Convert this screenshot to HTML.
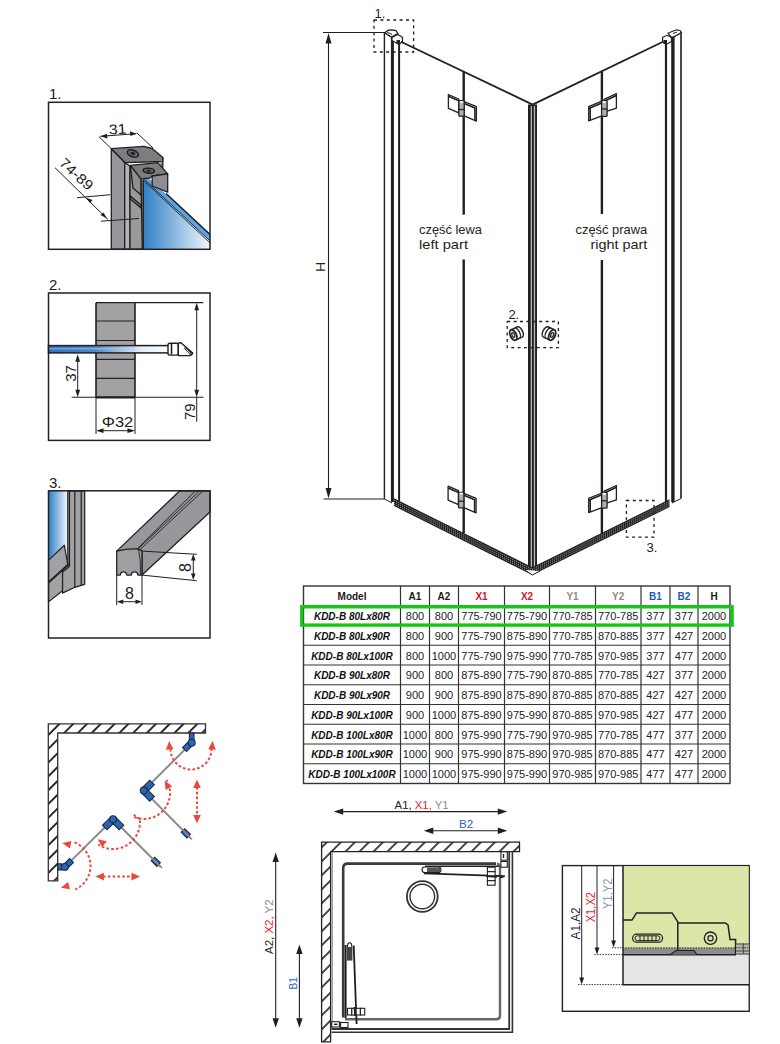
<!DOCTYPE html>
<html><head><meta charset="utf-8"><style>
html,body{margin:0;padding:0;background:#fff;width:780px;height:1044px;overflow:hidden}
svg{position:absolute;left:0;top:0}
</style></head><body>
<svg width="780" height="1044" viewBox="0 0 780 1044">
<defs>
<linearGradient id="gl" x1="0" y1="0" x2="1" y2="0"><stop offset="0" stop-color="#3a86c8"/><stop offset="1" stop-color="#ffffff"/></linearGradient>
<pattern id="hatch" patternUnits="userSpaceOnUse" width="8" height="8" patternTransform="rotate(45)"><rect width="8" height="8" fill="#fff"/><line x1="0" y1="0" x2="0" y2="8" stroke="#222" stroke-width="2.2"/></pattern>
<pattern id="hatch14" patternUnits="userSpaceOnUse" width="9.9" height="9.9" patternTransform="rotate(45)"><rect x="-1" y="-1" width="12" height="12" fill="#fff"/><line x1="4.95" y1="-1" x2="4.95" y2="11" stroke="#222" stroke-width="1.7"/></pattern>
<pattern id="hatch9" patternUnits="userSpaceOnUse" width="9.75" height="9.75" patternTransform="rotate(45) translate(3 0)"><rect x="-1" y="-1" width="12" height="12" fill="#fff"/><line x1="4.9" y1="-1" x2="4.9" y2="11" stroke="#222" stroke-width="1.9"/></pattern>
</defs>
<g stroke="#333" stroke-width="1.2" fill="none">
<rect x="303.5" y="586.0" width="426.5" height="197.5" stroke-width="1.4"/>
<line x1="400.5" y1="586.0" x2="400.5" y2="783.5"/>
<line x1="429.5" y1="586.0" x2="429.5" y2="783.5"/>
<line x1="458.5" y1="586.0" x2="458.5" y2="783.5"/>
<line x1="504.5" y1="586.0" x2="504.5" y2="783.5"/>
<line x1="549.5" y1="586.0" x2="549.5" y2="783.5"/>
<line x1="595.5" y1="586.0" x2="595.5" y2="783.5"/>
<line x1="641" y1="586.0" x2="641" y2="783.5"/>
<line x1="670" y1="586.0" x2="670" y2="783.5"/>
<line x1="698" y1="586.0" x2="698" y2="783.5"/>
<line x1="303.5" y1="605.75" x2="730" y2="605.75"/>
<line x1="303.5" y1="625.50" x2="730" y2="625.50"/>
<line x1="303.5" y1="645.25" x2="730" y2="645.25"/>
<line x1="303.5" y1="665.00" x2="730" y2="665.00"/>
<line x1="303.5" y1="684.75" x2="730" y2="684.75"/>
<line x1="303.5" y1="704.50" x2="730" y2="704.50"/>
<line x1="303.5" y1="724.25" x2="730" y2="724.25"/>
<line x1="303.5" y1="744.00" x2="730" y2="744.00"/>
<line x1="303.5" y1="763.75" x2="730" y2="763.75"/>
</g>
<g font-family='"Liberation Sans", sans-serif' text-anchor="middle">
<text x="352.0" y="600.0" font-size="10" font-weight="bold" fill="#1a1a1a">Model</text>
<text x="415.0" y="600.0" font-size="10" font-weight="bold" fill="#1a1a1a">A1</text>
<text x="444.0" y="600.0" font-size="10" font-weight="bold" fill="#1a1a1a">A2</text>
<text x="481.5" y="600.0" font-size="10" font-weight="bold" fill="#d7141e">X1</text>
<text x="527.0" y="600.0" font-size="10" font-weight="bold" fill="#d7141e">X2</text>
<text x="572.5" y="600.0" font-size="10" font-weight="bold" fill="#8a8a8a">Y1</text>
<text x="618.2" y="600.0" font-size="10" font-weight="bold" fill="#8a8a8a">Y2</text>
<text x="655.5" y="600.0" font-size="10" font-weight="bold" fill="#1d5cb4">B1</text>
<text x="684.0" y="600.0" font-size="10" font-weight="bold" fill="#1d5cb4">B2</text>
<text x="714.0" y="600.0" font-size="10" font-weight="bold" fill="#1a1a1a">H</text>
<text x="352.0" y="620.0" font-size="10" font-weight="bold" font-style="italic" fill="#111">KDD-B 80Lx80R</text>
<text x="415.0" y="620.0" font-size="11" fill="#222">800</text>
<text x="444.0" y="620.0" font-size="11" fill="#222">800</text>
<text x="481.5" y="620.0" font-size="11" fill="#222">775-790</text>
<text x="527.0" y="620.0" font-size="11" fill="#222">775-790</text>
<text x="572.5" y="620.0" font-size="11" fill="#222">770-785</text>
<text x="618.2" y="620.0" font-size="11" fill="#222">770-785</text>
<text x="655.5" y="620.0" font-size="11" fill="#222">377</text>
<text x="684.0" y="620.0" font-size="11" fill="#222">377</text>
<text x="714.0" y="620.0" font-size="11" fill="#222">2000</text>
<text x="352.0" y="639.7" font-size="10" font-weight="bold" font-style="italic" fill="#111">KDD-B 80Lx90R</text>
<text x="415.0" y="639.7" font-size="11" fill="#222">800</text>
<text x="444.0" y="639.7" font-size="11" fill="#222">900</text>
<text x="481.5" y="639.7" font-size="11" fill="#222">775-790</text>
<text x="527.0" y="639.7" font-size="11" fill="#222">875-890</text>
<text x="572.5" y="639.7" font-size="11" fill="#222">770-785</text>
<text x="618.2" y="639.7" font-size="11" fill="#222">870-885</text>
<text x="655.5" y="639.7" font-size="11" fill="#222">377</text>
<text x="684.0" y="639.7" font-size="11" fill="#222">427</text>
<text x="714.0" y="639.7" font-size="11" fill="#222">2000</text>
<text x="352.0" y="659.5" font-size="10" font-weight="bold" font-style="italic" fill="#111">KDD-B 80Lx100R</text>
<text x="415.0" y="659.5" font-size="11" fill="#222">800</text>
<text x="444.0" y="659.5" font-size="11" fill="#222">1000</text>
<text x="481.5" y="659.5" font-size="11" fill="#222">775-790</text>
<text x="527.0" y="659.5" font-size="11" fill="#222">975-990</text>
<text x="572.5" y="659.5" font-size="11" fill="#222">770-785</text>
<text x="618.2" y="659.5" font-size="11" fill="#222">970-985</text>
<text x="655.5" y="659.5" font-size="11" fill="#222">377</text>
<text x="684.0" y="659.5" font-size="11" fill="#222">477</text>
<text x="714.0" y="659.5" font-size="11" fill="#222">2000</text>
<text x="352.0" y="679.2" font-size="10" font-weight="bold" font-style="italic" fill="#111">KDD-B 90Lx80R</text>
<text x="415.0" y="679.2" font-size="11" fill="#222">900</text>
<text x="444.0" y="679.2" font-size="11" fill="#222">800</text>
<text x="481.5" y="679.2" font-size="11" fill="#222">875-890</text>
<text x="527.0" y="679.2" font-size="11" fill="#222">775-790</text>
<text x="572.5" y="679.2" font-size="11" fill="#222">870-885</text>
<text x="618.2" y="679.2" font-size="11" fill="#222">770-785</text>
<text x="655.5" y="679.2" font-size="11" fill="#222">427</text>
<text x="684.0" y="679.2" font-size="11" fill="#222">377</text>
<text x="714.0" y="679.2" font-size="11" fill="#222">2000</text>
<text x="352.0" y="699.0" font-size="10" font-weight="bold" font-style="italic" fill="#111">KDD-B 90Lx90R</text>
<text x="415.0" y="699.0" font-size="11" fill="#222">900</text>
<text x="444.0" y="699.0" font-size="11" fill="#222">900</text>
<text x="481.5" y="699.0" font-size="11" fill="#222">875-890</text>
<text x="527.0" y="699.0" font-size="11" fill="#222">875-890</text>
<text x="572.5" y="699.0" font-size="11" fill="#222">870-885</text>
<text x="618.2" y="699.0" font-size="11" fill="#222">870-885</text>
<text x="655.5" y="699.0" font-size="11" fill="#222">427</text>
<text x="684.0" y="699.0" font-size="11" fill="#222">427</text>
<text x="714.0" y="699.0" font-size="11" fill="#222">2000</text>
<text x="352.0" y="718.7" font-size="10" font-weight="bold" font-style="italic" fill="#111">KDD-B 90Lx100R</text>
<text x="415.0" y="718.7" font-size="11" fill="#222">900</text>
<text x="444.0" y="718.7" font-size="11" fill="#222">1000</text>
<text x="481.5" y="718.7" font-size="11" fill="#222">875-890</text>
<text x="527.0" y="718.7" font-size="11" fill="#222">975-990</text>
<text x="572.5" y="718.7" font-size="11" fill="#222">870-885</text>
<text x="618.2" y="718.7" font-size="11" fill="#222">970-985</text>
<text x="655.5" y="718.7" font-size="11" fill="#222">427</text>
<text x="684.0" y="718.7" font-size="11" fill="#222">477</text>
<text x="714.0" y="718.7" font-size="11" fill="#222">2000</text>
<text x="352.0" y="738.5" font-size="10" font-weight="bold" font-style="italic" fill="#111">KDD-B 100Lx80R</text>
<text x="415.0" y="738.5" font-size="11" fill="#222">1000</text>
<text x="444.0" y="738.5" font-size="11" fill="#222">800</text>
<text x="481.5" y="738.5" font-size="11" fill="#222">975-990</text>
<text x="527.0" y="738.5" font-size="11" fill="#222">775-790</text>
<text x="572.5" y="738.5" font-size="11" fill="#222">970-985</text>
<text x="618.2" y="738.5" font-size="11" fill="#222">770-785</text>
<text x="655.5" y="738.5" font-size="11" fill="#222">477</text>
<text x="684.0" y="738.5" font-size="11" fill="#222">377</text>
<text x="714.0" y="738.5" font-size="11" fill="#222">2000</text>
<text x="352.0" y="758.2" font-size="10" font-weight="bold" font-style="italic" fill="#111">KDD-B 100Lx90R</text>
<text x="415.0" y="758.2" font-size="11" fill="#222">1000</text>
<text x="444.0" y="758.2" font-size="11" fill="#222">900</text>
<text x="481.5" y="758.2" font-size="11" fill="#222">975-990</text>
<text x="527.0" y="758.2" font-size="11" fill="#222">875-890</text>
<text x="572.5" y="758.2" font-size="11" fill="#222">970-985</text>
<text x="618.2" y="758.2" font-size="11" fill="#222">870-885</text>
<text x="655.5" y="758.2" font-size="11" fill="#222">477</text>
<text x="684.0" y="758.2" font-size="11" fill="#222">427</text>
<text x="714.0" y="758.2" font-size="11" fill="#222">2000</text>
<text x="352.0" y="778.0" font-size="10" font-weight="bold" font-style="italic" fill="#111">KDD-B 100Lx100R</text>
<text x="415.0" y="778.0" font-size="11" fill="#222">1000</text>
<text x="444.0" y="778.0" font-size="11" fill="#222">1000</text>
<text x="481.5" y="778.0" font-size="11" fill="#222">975-990</text>
<text x="527.0" y="778.0" font-size="11" fill="#222">975-990</text>
<text x="572.5" y="778.0" font-size="11" fill="#222">970-985</text>
<text x="618.2" y="778.0" font-size="11" fill="#222">970-985</text>
<text x="655.5" y="778.0" font-size="11" fill="#222">477</text>
<text x="684.0" y="778.0" font-size="11" fill="#222">477</text>
<text x="714.0" y="778.0" font-size="11" fill="#222">2000</text>
</g>
<rect x="301.8" y="606.8" width="430.3" height="18.3" fill="none" stroke="#14c814" stroke-width="3.4"/>
<g stroke="#231f20" stroke-width="1.1" fill="none">
<line x1="323" y1="32.5" x2="385" y2="32.5"/>
<line x1="323.5" y1="499" x2="384.5" y2="499"/>
<line x1="328.5" y1="40" x2="328.5" y2="491"/>
</g>
<path d="M328.5 33 L325.5 43.5 L331.5 43.5 Z M328.5 498.5 L325.5 488 L331.5 488 Z" fill="#231f20"/>
<text transform="translate(325.3 266.8) rotate(-90)" font-family='"Liberation Sans", sans-serif' font-size="13.5" text-anchor="middle" fill="#231f20">H</text>
<g stroke="#231f20" fill="none">
<line x1="384.4" y1="33" x2="384.4" y2="499" stroke-width="1.4"/>
<line x1="392.4" y1="38" x2="392.4" y2="502" stroke-width="3"/>
<line x1="399.1" y1="43" x2="399.1" y2="501" stroke-width="2"/>
<path d="M384.6 32.8 L388.5 30.2 L392 29.8 L396 30.6 L397.8 33.5 L391.5 37 Z" stroke-width="1.2" fill="#fff"/>
<path d="M392 37.5 L397.8 34.5 L402.5 37.3 L402.5 41.5 L399 44.5 L392 40.5 Z" stroke-width="1.2" fill="#fff"/>
<path d="M384.6 33 L392 37.5 M387 32 L392 34.5" stroke-width="1"/>
<rect x="396.5" y="40" width="3.5" height="4" fill="#231f20" stroke="none"/>
<line x1="384.4" y1="499" x2="392" y2="503" stroke-width="1"/>
<line x1="401" y1="41.7" x2="532.6" y2="104.6" stroke-width="1.8"/>
<line x1="532.6" y1="104.6" x2="664" y2="41.2" stroke-width="1.8"/>
<line x1="666" y1="40" x2="666" y2="502" stroke-width="2.2"/>
<line x1="672.9" y1="36" x2="672.9" y2="502.3" stroke-width="3.4"/>
<line x1="681" y1="32.5" x2="681" y2="498.5" stroke-width="1.8" stroke="#3a3536"/>
<line x1="681" y1="498.5" x2="672" y2="503" stroke-width="1"/>
<path d="M662.6 37.3 L667 35.3 L671.5 37.5 L671.5 41.5 L666 44.5 L662.6 41.5 Z" stroke-width="1.2" fill="#fff"/>
<path d="M668 33.2 L672 31.5 L676.4 29.8 L680 30.5 L681.5 32.5 L675.5 36 L671.5 37.5 Z" stroke-width="1.2" fill="#fff"/>
<path d="M681.5 32.5 L672.6 37.8 M673 33.5 L677 32" stroke-width="1"/>
<rect x="663.5" y="40" width="3.5" height="4" fill="#231f20" stroke="none"/>
</g>
<rect x="528" y="104.5" width="9" height="465" fill="#231f20"/>
<rect x="530.7" y="106" width="1.3" height="462" fill="#b9b9b9"/>
<rect x="533.8" y="106" width="1.3" height="462" fill="#b9b9b9"/>
<g stroke="#231f20" stroke-width="2.4">
<line x1="463.7" y1="71.5" x2="463.7" y2="214.7"/><line x1="463.7" y1="259.6" x2="463.7" y2="533"/>
<line x1="601.9" y1="71.8" x2="601.9" y2="214"/><line x1="601.9" y1="260" x2="601.9" y2="535"/>
</g>
<path d="M394 498.3 L532.3 567.2 L532.3 575.0 L394 506.1 Z" fill="#231f20"/><path d="M394 500.3 L532.3 569.2 M394 502.3 L532.3 571.2 M394 504.3 L532.3 573.2" stroke="#fff" stroke-width="0.7" stroke-dasharray="0.9 1.3" fill="none" opacity="0.9"/>
<path d="M532.3 567.2 L669.5 499.3 L669.5 507.1 L532.3 575.0 Z" fill="#231f20"/><path d="M532.3 569.2 L669.5 501.3 M532.3 571.2 L669.5 503.3 M532.3 573.2 L669.5 505.3" stroke="#fff" stroke-width="0.7" stroke-dasharray="0.9 1.3" fill="none" opacity="0.9"/>
<path d="M525 570 L532.3 575 L540 571" stroke="#231f20" stroke-width="1" fill="#fff"/>
<g stroke="#231f20" stroke-width="1.3" fill="#fff" stroke-linejoin="round"><path d="M448.4 94.5 L458.8 99.0 L458.8 112.9 L448.4 108.4 Z"/><path d="M448.4 96.3 L458.8 100.8" stroke-width="1.6"/><path d="M464.2 101.7 L476.4 106.6 L476.4 121.1 L464.2 115.9 Z"/><path d="M464.2 103.5 L474.9 108.0 L474.9 120.5" stroke-width="1.6"/><rect x="458.8" y="100.6" width="5.4" height="15.6" rx="1" fill="#b0b0b0"/><line x1="458.8" y1="109.5" x2="464.2" y2="109.5"/><ellipse cx="461.5" cy="101.9" rx="1.8" ry="1" fill="#fff" stroke="none"/></g>
<g stroke="#231f20" stroke-width="1.3" fill="#fff" stroke-linejoin="round"><path d="M448.09999999999997 486.2 L458.5 490.7 L458.5 504.59999999999997 L448.09999999999997 500.09999999999997 Z"/><path d="M448.09999999999997 488.0 L458.5 492.5" stroke-width="1.6"/><path d="M463.9 493.4 L476.09999999999997 498.3 L476.09999999999997 512.8 L463.9 507.59999999999997 Z"/><path d="M463.9 495.2 L474.59999999999997 499.7 L474.59999999999997 512.2" stroke-width="1.6"/><rect x="458.5" y="492.3" width="5.4" height="15.6" rx="1" fill="#b0b0b0"/><line x1="458.5" y1="501.2" x2="463.9" y2="501.2"/><ellipse cx="461.2" cy="493.59999999999997" rx="1.8" ry="1" fill="#fff" stroke="none"/></g>
<g stroke="#231f20" stroke-width="1.3" fill="#fff" stroke-linejoin="round"><path d="M604.1999999999999 99.4 L616.4 93.7 L616.4 108.10000000000001 L604.1999999999999 112.1 Z"/><path d="M604.1999999999999 101.2 L616.4 95.5" stroke-width="1.6"/><path d="M588.6999999999999 106.60000000000001 L601.9 101.2 L601.9 115.9 L588.6999999999999 120.80000000000001 Z"/><path d="M588.6999999999999 108.4 L601.9 103.0 M590.1999999999999 107.7 L590.1999999999999 120.2" stroke-width="1.6"/><rect x="601.6" y="100.60000000000001" width="5.5" height="15.8" rx="1" fill="#b0b0b0"/><line x1="601.6" y1="109.0" x2="607.1" y2="109.0"/><ellipse cx="604.3" cy="101.9" rx="1.8" ry="1" fill="#fff" stroke="none"/></g>
<g stroke="#231f20" stroke-width="1.3" fill="#fff" stroke-linejoin="round"><path d="M604.1999999999999 491.2 L616.4 485.5 L616.4 499.9 L604.1999999999999 503.9 Z"/><path d="M604.1999999999999 493.0 L616.4 487.3" stroke-width="1.6"/><path d="M588.6999999999999 498.4 L601.9 493.0 L601.9 507.7 L588.6999999999999 512.6 Z"/><path d="M588.6999999999999 500.2 L601.9 494.8 M590.1999999999999 499.5 L590.1999999999999 512.0" stroke-width="1.6"/><rect x="601.6" y="492.4" width="5.5" height="15.8" rx="1" fill="#b0b0b0"/><line x1="601.6" y1="500.8" x2="607.1" y2="500.8"/><ellipse cx="604.3" cy="493.7" rx="1.8" ry="1" fill="#fff" stroke="none"/></g>
<g font-family='"Liberation Sans", sans-serif' font-size="13" fill="#231f20">
<text x="419" y="234" textLength="63" lengthAdjust="spacingAndGlyphs">część lewa</text>
<text x="419" y="249" textLength="49" lengthAdjust="spacingAndGlyphs">left part</text>
<text x="575.5" y="234" textLength="71.8" lengthAdjust="spacingAndGlyphs">część prawa</text>
<text x="590.4" y="249" textLength="57" lengthAdjust="spacingAndGlyphs">right part</text>
<text x="374.6" y="17.9" font-size="13">1.</text>
<text x="508.4" y="319" font-size="13">2.</text>
<text x="646.5" y="551.8" font-size="13">3.</text>
</g>
<g fill="none" stroke="#231f20" stroke-width="1.3" stroke-dasharray="3 3.4">
<rect x="374" y="20" width="39.6" height="32"/>
<rect x="507.2" y="321.5" width="51.2" height="26.2"/>
<rect x="626.4" y="500.5" width="27.6" height="36.7"/>
</g>
<g stroke="#231f20" stroke-width="1.5" fill="#fff" transform="translate(516.5 333.5) rotate(-25)"><ellipse cx="3.5" cy="0" rx="3" ry="5.6"/><rect x="-3.5" y="-5.6" width="7" height="11.2" stroke="none"/><path d="M-3.5 -5.6 L3.5 -5.6 M-3.5 5.6 L3.5 5.6"/><path d="M0.3 -5.6 A 3 5.6 0 0 1 0.3 5.6" stroke-width="1.3"/><ellipse cx="-3.5" cy="0" rx="3" ry="5.6" stroke-width="1.8"/><ellipse cx="-3.5" cy="0" rx="1.3" ry="2.6" stroke-width="1.3"/></g>
<g stroke="#231f20" stroke-width="1.5" fill="#fff" transform="translate(549 333.5) rotate(25)"><ellipse cx="-3.5" cy="0" rx="3" ry="5.6"/><rect x="-3.5" y="-5.6" width="7" height="11.2" stroke="none"/><path d="M-3.5 -5.6 L3.5 -5.6 M-3.5 5.6 L3.5 5.6"/><path d="M-0.3 -5.6 A 3 5.6 0 0 0 -0.3 5.6" stroke-width="1.3"/><ellipse cx="3.5" cy="0" rx="3" ry="5.6" stroke-width="1.8"/><ellipse cx="3.5" cy="0" rx="1.3" ry="2.6" stroke-width="1.3"/></g>
<line x1="342.2" y1="811.6" x2="498.8" y2="811.6" stroke="#231f20" stroke-width="1.1"/><path d="M333.7 811.6 L343.2 808.4 L343.2 814.8000000000001 Z M507.3 811.6 L497.8 808.4 L497.8 814.8000000000001 Z" fill="#231f20"/>
<line x1="432.3" y1="830.8" x2="498.8" y2="830.8" stroke="#231f20" stroke-width="1.1"/><path d="M423.8 830.8 L433.3 827.5999999999999 L433.3 834.0 Z M507.3 830.8 L497.8 827.5999999999999 L497.8 834.0 Z" fill="#231f20"/>
<text x="394.6" y="808.9" font-family='"Liberation Sans", sans-serif' font-size="11" textLength="54" lengthAdjust="spacingAndGlyphs"><tspan fill="#222">A1, </tspan><tspan fill="#e8262a">X1, </tspan><tspan fill="#8c8c8c">Y1</tspan></text>
<text x="459" y="827.9" font-family='"Liberation Sans", sans-serif' font-size="11" fill="#2b66c0" textLength="14.2" lengthAdjust="spacingAndGlyphs">B2</text>
<line x1="275.7" y1="861.0" x2="275.7" y2="1019.2" stroke="#231f20" stroke-width="1.1"/><path d="M275.7 852.5 L272.5 862.0 L278.9 862.0 Z M275.7 1027.7 L272.5 1018.2 L278.9 1018.2 Z" fill="#231f20"/>
<line x1="299.4" y1="952.9" x2="299.4" y2="1019.2" stroke="#231f20" stroke-width="1.1"/><path d="M299.4 944.4 L296.2 953.9 L302.59999999999997 953.9 Z M299.4 1027.7 L296.2 1018.2 L302.59999999999997 1018.2 Z" fill="#231f20"/>
<text transform="translate(273.2 954) rotate(-90)" font-family='"Liberation Sans", sans-serif' font-size="11" textLength="54.6" lengthAdjust="spacingAndGlyphs"><tspan fill="#222">A2, </tspan><tspan fill="#e8262a">X2, </tspan><tspan fill="#8c8c8c">Y2</tspan></text>
<text transform="translate(297 989.4) rotate(-90)" font-family='"Liberation Sans", sans-serif' font-size="11" fill="#2b66c0" textLength="12.4" lengthAdjust="spacingAndGlyphs">B1</text>
<path d="M321.6 842.1 L519.5 842.1 L519.5 851.7 L330.6 851.7 L330.6 1041.8 L321.6 1041.8 Z" fill="url(#hatch14)" stroke="#222" stroke-width="1.3"/>
<g fill="none" stroke="#333">
<path d="M332.2 852 L332.2 1029" stroke="#777" stroke-width="1"/>
<path d="M331.5 1029 L509.2 1029 L509.2 852" stroke-width="1.8"/>
<path d="M331.5 1032.2 L512.4 1032.2 L512.4 852" stroke-width="1.6"/>
<path d="M343.2 1017.5 L343.2 868 Q343.2 863.6 347.6 863.6 L496 863.6" stroke="#3a3a3a" stroke-width="2.6"/>
<path d="M345 1019.3 L496 1019.3 Q500 1019.3 500 1015.3 L500 867 Q500 864 497 863.6" stroke="#666" stroke-width="2.4"/>
<circle cx="422.3" cy="896.5" r="15.4" stroke-width="1.8"/>
<circle cx="422.3" cy="896.5" r="12.3" stroke-width="1.4"/>
</g>
<g stroke="#231f20" fill="none">
<path d="M425 866.3 L499 866.3" stroke-width="1.6"/>
<path d="M424 873.3 L504.7 876.2 L500 877.6" stroke-width="1.8"/>
<rect x="422" y="867" width="19" height="5.6" rx="2.8" fill="#fff" stroke-width="1.1"/>
<rect x="427" y="867.8" width="13" height="4.2" fill="#555" stroke="none"/>
<g fill="#fff" stroke-width="1.1"><rect x="487.4" y="867.2" width="7.7" height="4.5"/><rect x="487.4" y="871.7" width="7.7" height="4.5"/><rect x="487.4" y="876.2" width="7.7" height="4.5"/><rect x="487.4" y="880.7" width="7.7" height="4.5"/></g>
<path d="M486 876 L497 876.8" stroke-width="2"/>
<rect x="500.9" y="851.8" width="6.4" height="8.4" fill="#fff" stroke-width="1.1"/><rect x="500.9" y="861.5" width="6.4" height="5.7" fill="#fff" stroke-width="1.1"/>
<path d="M503.5 854 L503.5 858" stroke-width="1.4"/>
<path d="M345.6 945 L345.6 1018" stroke-width="2"/>
<path d="M353.7 945.5 L356.6 1024" stroke-width="1.8"/>
<path d="M347.5 960 L347.5 946 Q347.5 942.7 349.7 942.7 Q351.8 942.7 351.8 946 L351.8 960 Z" fill="#fff" stroke-width="1.1"/>
<rect x="347" y="947" width="5" height="13" fill="#444" stroke="none"/>
<g fill="#fff" stroke-width="1.1"><rect x="347.5" y="1008.3" width="4.3" height="6.7"/><rect x="351.8" y="1008.3" width="4.3" height="6.7"/><rect x="356.1" y="1008.3" width="4.3" height="6.7"/><rect x="360.4" y="1008.3" width="4.3" height="6.7"/></g>
<path d="M354.6 1007 L355.2 1016" stroke-width="2"/>
<rect x="331.7" y="1021.7" width="7.7" height="5.3" fill="#fff" stroke-width="1.1"/><rect x="340.6" y="1022.5" width="7.4" height="5" fill="#fff" stroke-width="1.1"/>
<path d="M334 1024.3 L337.5 1024.3" stroke-width="1.4"/>
</g>
<rect x="562.4" y="865.6" width="186.8" height="145.7" fill="#fff" stroke="#222" stroke-width="1.4"/>
<rect x="623" y="866.3" width="125.5" height="88.5" fill="#dde5a8"/>
<rect x="623" y="954.8" width="125.5" height="29.9" fill="#e4e5e4"/>
<path d="M623 948 L735.6 948 L735.6 954.8 L623 954.8 Z" fill="#8d8d8d"/>
<path d="M623 920.1 L632 920.1 L636.5 912.9 L672.1 912.9 L677.8 921.9 L677.8 954.3 M677.8 923 L725.4 923 L728.1 925.1 L730 939.5 L735.6 939.5 L735.6 954.5 M623 954.8 L736 954.8" fill="none" stroke="#231f20" stroke-width="1.5"/>
<path d="M670 954.8 L676 950.5 L694 950.5 L697 954.8" fill="#6d6d6d" stroke="#231f20" stroke-width="1.1"/>
<rect x="736" y="943.5" width="13" height="10.8" fill="#b4b5ae"/>
<path d="M736 944 L749 944 M736 951 L749 951 M736 954 L749 954 M743.3 943.5 L743.3 954" fill="none" stroke="#444" stroke-width="1"/>
<rect x="632.6" y="934.2" width="30" height="8" rx="4" fill="none" stroke="#231f20" stroke-width="1.2"/>
<rect x="635" y="935.8" width="25" height="4.8" rx="2.4" fill="none" stroke="#231f20" stroke-width="1"/>
<path d="M640 936 L640 940.5 M644 936 L644 940.5 M648 936 L648 940.5 M652 936 L652 940.5 M656 936 L656 940.5" stroke="#231f20" stroke-width="1"/>
<circle cx="710.5" cy="938.2" r="6.2" fill="none" stroke="#231f20" stroke-width="1.3"/><circle cx="710.5" cy="938.2" r="2.6" fill="none" stroke="#231f20" stroke-width="1.2"/>
<path d="M623 866 L623 984.7 L749 984.7" fill="none" stroke="#231f20" stroke-width="1.5"/>
<path d="M611.8 947.8 L749 947.8 M594.3 954.6 L623 954.6 M578 984.6 L623 984.6" stroke="#231f20" stroke-width="0.9" stroke-dasharray="1.5 1.2"/>
<line x1="581.7" y1="865.6" x2="581.7" y2="978.6" stroke="#231f20" stroke-width="1"/><path d="M581.7 984.6 L579.3000000000001 977.6 L584.1 977.6 Z" fill="#231f20"/>
<line x1="597" y1="865.6" x2="597" y2="948.4" stroke="#231f20" stroke-width="1"/><path d="M597 954.4 L594.6 947.4 L599.4 947.4 Z" fill="#231f20"/>
<line x1="613.6" y1="865.6" x2="613.6" y2="941.6" stroke="#231f20" stroke-width="1"/><path d="M613.6 947.6 L611.2 940.6 L616.0 940.6 Z" fill="#231f20"/>
<text transform="translate(580.2 939.4) rotate(-90)" font-family='"Liberation Sans", sans-serif' font-size="12.5" fill="#1e2840" textLength="32" lengthAdjust="spacingAndGlyphs">A1,A2</text>
<text transform="translate(595 922.3) rotate(-90)" font-family='"Liberation Sans", sans-serif' font-size="12.5" fill="#e8262a" textLength="30.3" lengthAdjust="spacingAndGlyphs">X1,X2</text>
<text transform="translate(612.1 909) rotate(-90)" font-family='"Liberation Sans", sans-serif' font-size="12.5" fill="#8797ab" textLength="30.5" lengthAdjust="spacingAndGlyphs">Y1,Y2</text>
<path d="M48.3 723.8 L205.5 723.8 L205.5 733 L57.7 733 L57.7 880.8 L48.3 880.8 Z" fill="url(#hatch9)" stroke="#333" stroke-width="1.3"/>
<g stroke="#8c8c8c" stroke-width="2" fill="none">
<path d="M191.7 742.7 L143.8 790.6 L190.5 838"/>
<path d="M64.9 866.9 L113.1 819.2 L160.8 867"/>
</g>
<g fill="#2d65b5" stroke="#1d2b45" stroke-width="1.1">
<rect x="189.4" y="733" width="4.6" height="6.5"/>
<rect x="-3.5" y="-2.75" width="7" height="5.5" transform="translate(187 747) rotate(-45)"/>
<circle cx="191.7" cy="742.7" r="3.5"/>
<rect x="-5.0" y="-3.25" width="10" height="6.5" transform="translate(148.5 786) rotate(-45)"/>
<rect x="-5.0" y="-3.25" width="10" height="6.5" transform="translate(148.5 795.3) rotate(45)"/>
<circle cx="143.8" cy="790.6" r="3.5"/>
<rect x="-4.0" y="-2.5" width="8" height="5" transform="translate(185.8 833.3) rotate(45)"/>
<rect x="57.7" y="863.8" width="4" height="6.2"/>
<rect x="-3.5" y="-2.75" width="7" height="5.5" transform="translate(69 863) rotate(-45)"/>
<circle cx="64.9" cy="866.9" r="3.4"/>
<rect x="-5.0" y="-3.25" width="10" height="6.5" transform="translate(108.3 824) rotate(-45)"/>
<rect x="-5.0" y="-3.25" width="10" height="6.5" transform="translate(117.9 824) rotate(45)"/>
<circle cx="113.1" cy="819.2" r="3.5"/>
<rect x="-4.0" y="-2.5" width="8" height="5" transform="translate(155.8 861.8) rotate(45)"/>
</g>
<path d="M182 829 L192 839.5 M151.5 857.5 L162 868" stroke="#8c8c8c" stroke-width="1.6"/>
<g stroke="#e9493b" stroke-width="2" fill="none" stroke-dasharray="2.6 2.2">
<path d="M170.50 749.00 L170.61 751.14 L170.95 753.26 L171.50 755.33 L172.27 757.34 L173.25 759.25 L174.42 761.05 L175.77 762.72 L177.28 764.23 L178.95 765.58 L180.75 766.75 L182.66 767.73 L184.67 768.50 L186.74 769.05 L188.86 769.39 L191.00 769.50 L193.14 769.39 L195.26 769.05 L197.33 768.50 L199.34 767.73 L201.25 766.75 L203.05 765.58 L204.72 764.23 L206.23 762.72 L207.58 761.05 L208.75 759.25 L209.73 757.34 L210.50 755.33 L211.05 753.26 L211.39 751.14 L211.50 749.00"/>
<path d="M197 787 L197 816"/>
<path d="M134.26 817.11 L136.28 817.83 L138.36 818.38 L140.47 818.76 L142.61 818.96 L144.76 818.99 L146.90 818.84 L149.02 818.51 L151.11 818.01 L153.15 817.34 L155.12 816.50 L157.03 815.50 L158.84 814.35 L160.55 813.05 L162.15 811.62 L163.62 810.06 L164.96 808.38 L166.16 806.60 L167.21 804.72 L168.10 802.77 L168.82 800.75 L169.37 798.67 L169.76 796.56 L169.96 794.42 L169.99 792.27 L169.84 790.13 L169.52 788.01 L169.02 785.92 L168.35 783.88 L167.51 781.90 L166.52 780.00"/>
<path d="M133.8 814.6 L137 818 139.74 818.24 L139.95 820.29 L140.00 822.35 L139.89 824.40 L139.63 826.44 L139.22 828.46 L138.65 830.43 L137.93 832.36 L137.07 834.23 L136.07 836.03 L134.94 837.74 L133.67 839.37 L132.29 840.89 L130.80 842.30 L129.20 843.60 L127.51 844.77 L125.73 845.81 L123.88 846.71 L121.97 847.47 L120.00 848.08 L118.00 848.53 L115.96 848.84 L113.91 848.98 L111.85 848.98 L109.80 848.81 L107.77 848.49 L105.77 848.01 L103.81 847.39 L101.90 846.61 L100.06 845.70 L98.29 844.64"/>
<path d="M74.55 842.36 L76.36 843.17 L78.11 844.13 L79.77 845.21 L81.35 846.43 L82.82 847.76 L84.19 849.20 L85.44 850.75 L86.56 852.39 L87.56 854.11 L88.41 855.90 L89.13 857.75 L89.70 859.66 L90.12 861.60 L90.38 863.57 L90.50 865.55 L90.45 867.54 L90.26 869.52 L89.91 871.48 L89.40 873.40 L88.75 875.28 L87.96 877.10 L87.02 878.85 L85.96 880.53 L84.76 882.12 L83.45 883.61 L82.02 884.99 L80.49 886.26 L78.86 887.40 L77.15 888.42 L75.37 889.30"/>
<path d="M103 876.6 L133 876.6"/>
</g>
<path d="M169.20 741.00 L173.42 749.30 L165.83 749.68 Z M212.50 741.00 L215.87 749.68 L208.28 749.30 Z M197.00 779.60 L200.80 788.10 L193.20 788.10 Z M197.00 823.50 L193.20 815.00 L200.80 815.00 Z M164.60 780.80 L172.19 786.20 L165.63 790.05 Z M97.70 839.20 L106.78 841.26 L102.22 847.34 Z M62.30 843.00 L71.38 840.94 L69.89 848.39 Z M60.80 887.70 L68.12 881.95 L69.97 889.32 Z M95.40 876.60 L103.90 872.80 L103.90 880.40 Z M140.00 876.60 L131.50 880.40 L131.50 872.80 Z " fill="#e9493b"/>
<defs><linearGradient id="g1" x1="0" y1="0" x2="1" y2="0"><stop offset="0" stop-color="#2f7fc6"/><stop offset="1" stop-color="#f2f7fc"/></linearGradient></defs>
<path d="M143.1 179.4 L148 178 L210 234.5 L210 249.2 L143.1 249.2 Z" fill="url(#g1)"/>
<path d="M148 178 L210 234.5 L210 241 L144.5 179.4 Z" fill="#5aa6e6"/>
<g stroke="#231f20" stroke-width="1.3" stroke-linejoin="round">
<path d="M111.3 148.7 L124.7 162.6 L124.7 249.2 L111.3 249.2 Z" fill="#97979b"/>
<path d="M124.7 162.6 L130 166 L130 249.2 L124.7 249.2 Z" fill="#b4b4b8"/>
<path d="M130 166 L141 178.8 L142.3 249.2 L130 249.2 Z" fill="#9a9a9e"/>
<path d="M111.3 148.7 L143.7 146.3 L152.2 148.5 L162.8 157.6 L162.8 161.5 L125.4 162.6 Z" fill="#7e7e82"/>
<path d="M162.8 157.6 L162.8 172 L157.8 170" fill="#8a8a8e"/>
<ellipse cx="132.9" cy="153.4" rx="5.8" ry="3.2" transform="rotate(20 132.9 153.4)" fill="#6e6e72" stroke-width="1.6"/><ellipse cx="132.9" cy="153.4" rx="2.6" ry="1.4" transform="rotate(20 132.9 153.4)" fill="#222" stroke="none"/>
<path d="M130.3 165.4 L157.8 162.6 L167.7 173.9 L152.2 176 L150 178 L140.9 178.8 Z" fill="#7e7e82"/>
<path d="M140.9 178.8 L140.9 195 L133 188 L130.3 165.4 Z" fill="#8e8e92"/>
<path d="M152.2 176 L167.7 173.9 L167.7 192.2 L152.2 186 Z" fill="#8e8e92"/>
<ellipse cx="148.7" cy="170.7" rx="5.6" ry="2.4" transform="rotate(6 148.7 170.7)" fill="#6e6e72" stroke-width="1.6"/><ellipse cx="148.7" cy="170.7" rx="2.4" ry="1" fill="#222" stroke="none"/>
<path d="M130.3 196 L141 205 L141 208 L130.3 199 Z" fill="#777"/>
</g>
<path d="M166 193.5 L210 234.5" fill="none" stroke="#231f20" stroke-width="1.7"/>
<path d="M144.5 179.4 L210 241 M144.5 181.4 L210 243" fill="none" stroke="#231f20" stroke-width="0.9"/>
<path d="M143.1 179.4 L143.1 249.2" stroke="#231f20" stroke-width="1.7"/>
<g stroke="#231f20" stroke-width="1" fill="none">
<path d="M98.8 136.5 L111.3 148.7 M137 133 L153 148"/>
<path d="M55 167.7 L108 219.6 M77 197.7 L110.4 194.7 M101 221.2 L139 218.5"/>
</g>
<path d="M100.5 136.3 L136.5 133.7" stroke="#231f20" stroke-width="1"/>
<path d="M100.5 136.3 L107 133.8 L107.4 138.6 Z M136.5 133.7 L130 131.2 L130.4 136 Z" fill="#231f20"/>
<path d="M86 197.7 L90 203 L92.5 200 Z M107 218.5 L100.5 215 L103.5 212.5 Z" fill="#231f20"/>
<g font-family='"Liberation Sans", sans-serif' font-size="14" fill="#1a1a1a">
<text x="109" y="134" textLength="17.5" lengthAdjust="spacingAndGlyphs" transform="rotate(-4 117 130)">31</text>
<text transform="translate(58.5 164) rotate(43)" textLength="40" lengthAdjust="spacingAndGlyphs">74-89</text>
</g>
<rect x="96" y="302.7" width="39" height="94.6" fill="#a2a2a5"/>
<g stroke="#231f20" fill="none">
<path d="M96 302.7 L96 397.3 M135 302.7 L135 397.3" stroke-width="1.6"/>
<path d="M96 302.7 L203.3 302.7" stroke-width="1.3"/>
<path d="M96 321 L135 321 M96 340.5 L135 340.5 M96 359.3 L135 359.3 M96 378.3 L135 378.3" stroke-width="1.2"/>
<path d="M71.7 397.3 L203.3 397.3" stroke-width="1.1"/>
<path d="M96 397.3 L135 397.3" stroke-width="2.2"/>
<path d="M96 397.3 L96 434 M135 397.3 L135 434 M196.7 397.3 L196.7 421.7" stroke-width="1"/>
</g>
<line x1="196.7" y1="309.2" x2="196.7" y2="390.8" stroke="#231f20" stroke-width="1"/><path d="M196.7 302.7 L194.29999999999998 310.2 L199.1 310.2 Z M196.7 397.3 L194.29999999999998 389.8 L199.1 389.8 Z" fill="#231f20"/>
<line x1="77.7" y1="360.8" x2="77.7" y2="390.8" stroke="#231f20" stroke-width="1"/><path d="M77.7 354.3 L75.3 361.8 L80.10000000000001 361.8 Z M77.7 397.3 L75.3 389.8 L80.10000000000001 389.8 Z" fill="#231f20"/>
<line x1="102.5" y1="430.7" x2="128.5" y2="430.7" stroke="#231f20" stroke-width="1"/><path d="M96 430.7 L103.5 428.3 L103.5 433.09999999999997 Z M135 430.7 L127.5 428.3 L127.5 433.09999999999997 Z" fill="#231f20"/>
<defs><linearGradient id="rod" x1="0" y1="0" x2="1" y2="0"><stop offset="0" stop-color="#2f72bd"/><stop offset="0.35" stop-color="#4a86c4"/><stop offset="0.75" stop-color="#e8f0f8"/><stop offset="1" stop-color="#ffffff"/></linearGradient></defs>
<rect x="48.5" y="345.6" width="125.7" height="7.3" fill="url(#rod)" stroke="#231f20" stroke-width="1.5"/>
<path d="M49 348.8 L135 348.8" stroke="#a8cdf0" stroke-width="1" opacity="0.8"/>
<rect x="168" y="343.3" width="10.3" height="11.8" rx="1.8" fill="#fff" stroke="#231f20" stroke-width="1.4"/>
<path d="M171.5 344 L171.5 354.5" stroke="#231f20" stroke-width="1.6"/>
<path d="M178.3 343.3 Q179.5 342.5 181 342.8 L192.7 353.1 Q191.5 355.8 188 355.6 L178.3 355.6 Z" fill="#fff" stroke="#231f20" stroke-width="1.4" stroke-linejoin="round"/>
<path d="M185.5 348.3 L190.3 353" stroke="#231f20" stroke-width="2.4" stroke-linecap="round"/>
<path d="M185.7 348.6 L190 352.8" stroke="#fff" stroke-width="0.9" stroke-linecap="round"/>
<g font-family='"Liberation Sans", sans-serif' font-size="15" fill="#1a1a1a">
<text transform="translate(75.5 373.5) rotate(-90)" text-anchor="middle">37</text>
<text transform="translate(194.5 411.7) rotate(-90)" text-anchor="middle">79</text>
<text x="101.7" y="426.7" textLength="31.6" lengthAdjust="spacingAndGlyphs">Φ32</text>
</g>
<defs><linearGradient id="g3" x1="0" y1="0" x2="1" y2="0"><stop offset="0" stop-color="#2f7fc6"/><stop offset="1" stop-color="#f2f7fc"/></linearGradient></defs>
<path d="M48.5 490.8 L67.8 490.8 L67.8 560 L48.5 570 Z" fill="url(#g3)"/>
<g stroke="#231f20" stroke-width="1.2" stroke-linejoin="round">
<path d="M67.8 490.8 L84.7 490.8 L84.7 584.4 L74.8 587.3 L62.5 593.1 L62.5 571 L67.8 566 Z" fill="#a2a2a5"/>
<path d="M69.5 490.8 L69.5 566 M74.8 490.8 L74.8 587.3 M81.2 490.8 L81.2 585.5" fill="none"/>
<path d="M48.5 560.4 L64.3 545.2 L67.8 564.5 L48.5 582 Z" fill="#a2a2a5"/>
<path d="M48.5 583 L69 564.5 L69 567 L62.5 572 L62.5 590.8 L48.5 601.9 Z" fill="#a2a2a5"/>
</g>
<g stroke="#231f20" stroke-width="1.3" stroke-linejoin="round">
<path d="M116.7 551.1 L179.8 490.8 L210 490.8 L210 512 L142 575.1 L142 551.1 Z" fill="#98989c"/>
<path d="M138.6 548.4 L199.7 490.8 M140.5 549.2 L203 490.8" fill="none" stroke-width="0.9"/>
<path d="M137.2 549 L195.5 490.8" fill="none" stroke-width="1"/>
<path d="M116.7 551.1 Q128 548.5 137.2 549 Q141 549.5 142 551.1 L142 575.1 L137.8 575.1 A 3.2 3.2 0 0 0 131.3 575.1 L126.8 575.1 A 3.2 3.2 0 0 0 120.3 575.1 L116.7 575.1 Z" fill="#a0a0a4"/>
<path d="M138.5 549 Q141 560 140.5 575" fill="none" stroke-width="0.9"/>
</g>
<g stroke="#231f20" stroke-width="1" fill="none">
<path d="M142 551.1 L196.7 554.3 M142 575.1 L196.7 580.7 M116.7 575.1 L116.7 605 M142 575.1 L142 605"/>
</g>
<line x1="193.3" y1="559.5" x2="193.3" y2="574.5" stroke="#231f20" stroke-width="1"/><path d="M193.3 554 L191.0 560.5 L195.60000000000002 560.5 Z M193.3 580 L191.0 573.5 L195.60000000000002 573.5 Z" fill="#231f20"/>
<line x1="122.2" y1="601.7" x2="136.5" y2="601.7" stroke="#231f20" stroke-width="1"/><path d="M116.7 601.7 L123.2 599.4000000000001 L123.2 604.0 Z M142 601.7 L135.5 599.4000000000001 L135.5 604.0 Z" fill="#231f20"/>
<g font-family='"Liberation Sans", sans-serif' font-size="15" fill="#1a1a1a">
<text transform="translate(191 567.5) rotate(-90)" text-anchor="middle" font-size="16">8</text>
<text x="129.5" y="598.8" text-anchor="middle" font-size="16">8</text>
</g>
<g font-family='"Liberation Sans", sans-serif' font-size="15" fill="#1a1a1a"><text x="49" y="99">1.</text><text x="49" y="290">2.</text><text x="49" y="488">3.</text></g>
<g fill="none" stroke="#222" stroke-width="1.5"><rect x="48.5" y="102.3" width="161.5" height="147"/><rect x="48.5" y="293" width="161.5" height="147.4"/><rect x="48.5" y="490.8" width="161.5" height="147.2"/></g>
</svg></body></html>
